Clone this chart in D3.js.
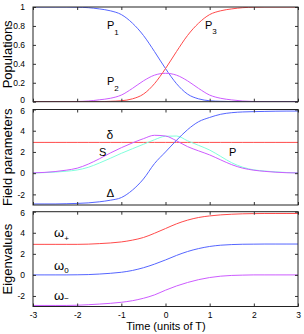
<!DOCTYPE html>
<html><head><meta charset="utf-8">
<script src="https://cdn.jsdelivr.net/npm/d3@7"></script>
<style>
body{margin:0;background:#fff;}
svg{display:block;font-family:"Liberation Sans",Arial,sans-serif;}
</style></head><body>
<svg id="c" width="304" height="334"></svg>
<script>
// ---- data ----
const time = [-3,-2.75,-2.5,-2.25,-2,-1.75,-1.5,-1.25,-1,-0.75,-0.5,-0.25,0,0.25,0.5,0.75,1,1.25,1.5,1.75,2,2.25,2.5,2.75,3];
const P1 = [1,1,1,1,0.998,0.993,0.98,0.96,0.92,0.83,0.70,0.53,0.35,0.19,0.08,0.03,0.01,0.004,0.001,0,0,0,0,0,0];
const P2 = [0,0,0,0,0.002,0.007,0.02,0.036,0.07,0.14,0.22,0.28,0.30,0.28,0.22,0.14,0.07,0.036,0.019,0.007,0.002,0,0,0,0];
const P3 = [0,0,0,0,0,0,0,0.004,0.01,0.03,0.08,0.19,0.35,0.53,0.70,0.83,0.92,0.96,0.98,0.993,0.998,1,1,1,1];
const deltaSmall = [2.9,2.9,2.9,2.9,2.9,2.9,2.9,2.9,2.9,2.9,2.9,2.9,2.9,2.9,2.9,2.9,2.9,2.9,2.9,2.9,2.9,2.9,2.9,2.9,2.9];
const DeltaBig = [-2.9,-2.9,-2.9,-2.88,-2.85,-2.8,-2.7,-2.55,-2.3,-1.6,-0.55,0.9,2.0,3.1,4.1,4.85,5.25,5.55,5.7,5.77,5.8,5.82,5.84,5.85,5.85];
const S = [0.03,0.07,0.15,0.28,0.47,0.85,1.35,1.9,2.4,2.85,3.25,3.57,3.5,3.05,2.5,2.1,1.72,1.25,0.8,0.47,0.28,0.17,0.09,0.04,0.02];
const P = [0.02,0.05,0.1,0.18,0.3,0.55,0.95,1.4,1.87,2.3,2.72,3.15,3.48,3.5,3.05,2.62,2.18,1.58,0.98,0.56,0.31,0.2,0.12,0.06,0.03];
const wPlus = [2.9,2.9,2.9,2.9,2.9,2.92,2.97,3.03,3.13,3.3,3.55,3.95,4.4,4.85,5.2,5.45,5.6,5.7,5.76,5.8,5.82,5.83,5.83,5.83,5.83];
const wZero = [0,0,0,0,0.01,0.03,0.08,0.15,0.25,0.42,0.68,1.02,1.42,1.85,2.22,2.5,2.7,2.82,2.88,2.91,2.92,2.93,2.93,2.93,2.93];
const wMinus = [-2.9,-2.9,-2.9,-2.9,-2.88,-2.83,-2.77,-2.7,-2.6,-2.45,-2.22,-1.9,-1.45,-1.05,-0.72,-0.45,-0.25,-0.12,-0.05,-0.02,0,0,0,0,0];
const xTicks = [-3,-2,-1,0,1,2,3];
const popTicks = [0,0.2,0.4,0.6,0.8,1];
const fieldTicks = [-2,0,2,4,6];
const eigTicks = [-2,0,2,4,6];

const RED="#ff4a4a", BLUE="#5565ff", MAG="#cc5cff", CYAN="#80ffdc";

const svg = d3.select("#c");
const x = d3.scaleLinear().domain([-3,3]).range([33,298]);

const panels = [
  {top:7, bottom:101.7, dom:[0,1], ticks:popTicks, title:"Populations",
   series:[[P1,BLUE],[P2,MAG],[P3,RED]]},
  {top:109.5, bottom:205, dom:[-3,6], ticks:fieldTicks, title:"Field parameters",
   series:[[deltaSmall,RED],[P,CYAN],[S,MAG],[DeltaBig,BLUE]]},
  {top:211.7, bottom:306.5, dom:[-3,6], ticks:eigTicks, title:"Eigenvalues",
   series:[[wPlus,RED],[wZero,BLUE],[wMinus,MAG]]}
];

panels.forEach((p,i)=>{
  const y = d3.scaleLinear().domain(p.dom).range([p.bottom,p.top]);
  const g = svg.append("g");
  const cid = "clip"+i;
  svg.append("clipPath").attr("id",cid).append("rect")
    .attr("x",x.range()[0]).attr("y",p.top).attr("width",x.range()[1]-x.range()[0]).attr("height",p.bottom-p.top);
  const line = d3.line().x((d,j)=>x(time[j])).y(d=>y(d)).curve(d3.curveMonotoneX);
  p.series.forEach(([arr,col])=>{
    g.append("path").attr("d",line(arr)).attr("fill","none").attr("stroke",col)
     .attr("stroke-width",1).attr("clip-path",`url(#${cid})`);
  });
  const fmt = d=>String(d);
  const ax = g.append("g").attr("transform",`translate(${x.range()[0]},0)`)
    .call(d3.axisLeft(y).tickValues(p.ticks).tickSizeInner(-3).tickSizeOuter(0).tickPadding(8).tickFormat(fmt));
  const ar = g.append("g").attr("transform",`translate(${x.range()[1]},0)`)
    .call(d3.axisRight(y).tickValues(p.ticks).tickSizeInner(-3).tickSizeOuter(0).tickFormat(""));
  const at = g.append("g").attr("transform",`translate(0,${p.top})`)
    .call(d3.axisTop(x).tickValues(xTicks).tickSizeInner(-3).tickSizeOuter(0).tickFormat(""));
  const ab = g.append("g").attr("transform",`translate(0,${p.bottom})`)
    .call(d3.axisBottom(x).tickValues(xTicks).tickSizeInner(-3).tickSizeOuter(0).tickPadding(5)
      .tickFormat(i===2?fmt:""));
  [ax,ar,at,ab].forEach(a=>{
    a.select(".domain").remove();
    a.selectAll("line").attr("stroke","#333");
    a.selectAll("text").attr("font-size",8.5).attr("fill","#000").attr("font-family","Liberation Sans, Arial, sans-serif");
  });
  // nudge end labels apart where panels meet
  ax.selectAll(".tick text").attr("dy",d=>{
    if(i===0 && d===0) return "0.1em";
    if(i>0 && d===6) return "0.5em";
    return "0.32em";
  });
  g.append("rect").attr("x",x.range()[0]).attr("y",p.top)
    .attr("width",x.range()[1]-x.range()[0]).attr("height",p.bottom-p.top)
    .attr("fill","none").attr("stroke","#222").attr("stroke-width",1);
  svg.append("text").attr("transform",`translate(11.5,${(p.top+p.bottom)/2}) rotate(-90)`)
    .attr("text-anchor","middle").attr("font-size",13).text(p.title);
});

// in-plot labels
function lab(xp,yp,main,sub,dy,fs){
  const t = svg.append("text").attr("x",xp).attr("y",yp).attr("font-size",fs||11);
  t.append("tspan").text(main);
  if(sub) t.append("tspan").attr("font-size",8).attr("dy",dy||5).text(sub);
}
lab(107,28.5,"P","1",6);
lab(107,85,"P","2",6);
lab(205,28.5,"P","3",5);
lab(106.5,138.5,"δ",null,0,12);
lab(99,156,"S",null,0,11);
lab(106.5,196.5,"Δ",null,0,11.5);
lab(229,156,"P",null,0,11);
lab(54,236.5,"ω","+",4,13);
lab(54,270,"ω","0",3,13);
lab(54,299.5,"ω","−",1,13);

svg.append("text").attr("x",166).attr("y",329.5).attr("text-anchor","middle").attr("font-size",11)
  .text("Time (units of T)");
</script>
</body></html>
